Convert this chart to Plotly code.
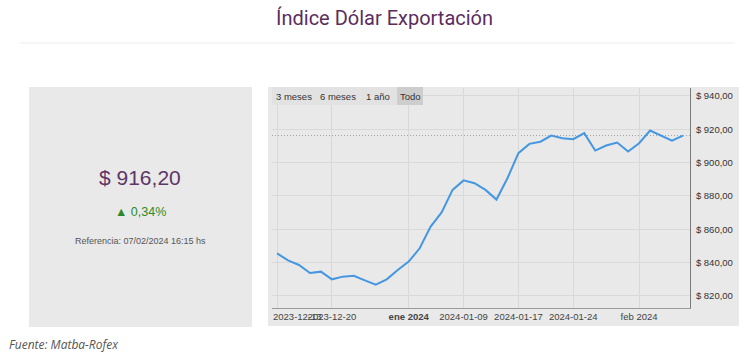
import plotly.graph_objects as go

# ---- data ----
dates = [
    "2023-12-13", "2023-12-14", "2023-12-15", "2023-12-18", "2023-12-19", "2023-12-20",
    "2023-12-21", "2023-12-22", "2023-12-26", "2023-12-27", "2023-12-28", "2023-12-29",
    "2024-01-02", "2024-01-03", "2024-01-04", "2024-01-05", "2024-01-08", "2024-01-09",
    "2024-01-10", "2024-01-11", "2024-01-12", "2024-01-16", "2024-01-17", "2024-01-18",
    "2024-01-19", "2024-01-22", "2024-01-23", "2024-01-24", "2024-01-25", "2024-01-26",
    "2024-01-29", "2024-01-30", "2024-01-31", "2024-02-01", "2024-02-02", "2024-02-05",
    "2024-02-06", "2024-02-07",
]
values = [
    845.6, 841.3, 838.6, 833.8, 834.6, 830.0,
    831.6, 832.1, 829.4, 826.8, 830.0, 835.6,
    840.6, 848.6, 861.6, 870.1, 883.6, 889.3,
    887.6, 883.6, 877.8, 890.6, 905.6, 911.2,
    912.5, 916.2, 914.6, 914.0, 917.6, 907.2,
    910.2, 912.0, 906.6, 911.6, 919.2, 916.0,
    913.1, 916.2,
]
tick_dates = ["2023-12-13", "2023-12-20", "2024-01-02", "2024-01-09",
              "2024-01-17", "2024-01-24", "2024-02-01"]
tick_labels = ["2023-12-13", "2023-12-20", "<b>ene 2024</b>", "2024-01-09",
               "2024-01-17", "2024-01-24", "feb 2024"]
y_ticks = [820, 840, 860, 880, 900, 920, 940]
y_tick_labels = ["$ 820,00", "$ 840,00", "$ 860,00", "$ 880,00",
                 "$ 900,00", "$ 920,00", "$ 940,00"]
last_value_text = "$ 916,20"
change_text = "▲ 0,34%"
reference_text = "Referencia: 07/02/2024 16:15 hs"
title_text = "Índice Dólar Exportación"
source_text = "<i>Fuente: Matba-Rofex</i>"
range_buttons = ["3 meses", "6 meses", "1 año", "Todo"]

# ---- geometry helpers (window pixels -> paper) ----
W, H = 752, 363
PL, PR, PT, PB = 272, 690, 88, 308  # plot area in pixels


def px(x):
    return (x - PL) / (PR - PL)


def py(y):
    return (PB - y) / (PB - PT)


fig = go.Figure()
fig.add_trace(go.Scatter(
    x=dates, y=values, mode="lines",
    line=dict(color="#4497e0", width=2),
    hoverinfo="skip", showlegend=False,
))

shapes = [
    dict(type="rect", xref="paper", yref="paper", x0=px(29), x1=px(252), y0=py(87), y1=py(327),
         fillcolor="#e9e9e9", line=dict(width=0), layer="below"),
    dict(type="rect", xref="paper", yref="paper", x0=px(268), x1=px(739), y0=py(87), y1=py(326),
         fillcolor="#e9e9e9", line=dict(width=0), layer="below"),
    dict(type="line", xref="paper", yref="paper", x0=px(20), x1=px(735), y0=py(43), y1=py(43),
         line=dict(color="#ececec", width=1)),
    dict(type="rect", xref="paper", yref="paper", x0=px(272), x1=px(397), y0=py(87), y1=py(105),
         fillcolor="#e2e2e2", line=dict(width=0), layer="above"),
    dict(type="rect", xref="paper", yref="paper", x0=px(397), x1=px(423), y0=py(87), y1=py(105),
         fillcolor="#cdcdcd", line=dict(width=0), layer="above"),
    dict(type="line", xref="paper", yref="y", x0=0, x1=1, y0=values[-1], y1=values[-1],
         line=dict(color="#a0a0a0", width=1, dash="1px,2px"), layer="below"),
]

# first tick label is justified inside the plot area, as in the reference
shown_tick_labels = [""] + tick_labels[1:]

annotations = [
    dict(text=title_text, x=px(384), y=py(18), xref="paper", yref="paper", showarrow=False,
         font=dict(family="Roboto", size=20, color="#5b2d5e"), xanchor="center", yanchor="middle"),
    dict(text=last_value_text, x=px(140), y=py(177), xref="paper", yref="paper", showarrow=False,
         font=dict(family="Liberation Sans", size=21, color="#5e3566"), xanchor="center", yanchor="middle"),
    dict(text=change_text, x=px(140), y=py(212), xref="paper", yref="paper", showarrow=False,
         font=dict(family="Liberation Sans", size=12.5, color="#2a8a2a"), xanchor="center", yanchor="middle"),
    dict(text=reference_text, x=px(140), y=py(241), xref="paper", yref="paper", showarrow=False,
         font=dict(family="Liberation Sans", size=9, color="#555555"), xanchor="center", yanchor="middle"),
    dict(text=source_text, x=px(7), y=py(344), xref="paper", yref="paper", showarrow=False,
         font=dict(family="Open Sans", size=12, color="#555555"), xanchor="left", yanchor="middle"),
    dict(text=tick_labels[0], x=px(271), y=py(316.5), xref="paper", yref="paper", showarrow=False,
         font=dict(family="Liberation Sans", size=9.5, color="#444444"), xanchor="left", yanchor="middle"),
]
for label, cx in zip(range_buttons, [294, 338, 378, 410]):
    annotations.append(dict(text=label, x=px(cx), y=py(96), xref="paper", yref="paper",
                            showarrow=False, xanchor="center", yanchor="middle",
                            font=dict(family="Liberation Sans", size=9.5, color="#333333")))

fig.update_layout(
    width=W, height=H,
    margin=dict(l=PL, r=W - PR, t=PT, b=H - PB),
    paper_bgcolor="white",
    plot_bgcolor="rgba(0,0,0,0)",
    shapes=shapes,
    annotations=annotations,
    showlegend=False,
    xaxis=dict(
        type="category",
        categoryorder="array", categoryarray=dates,
        range=[-0.46, len(dates) - 1 + 0.64],
        tickmode="array", tickvals=tick_dates, ticktext=shown_tick_labels,
        tickangle=0,
        showgrid=True, gridcolor="#d9d9d9", gridwidth=1,
        showline=True, linecolor="#9a9a9a", linewidth=1,
        ticks="", zeroline=False,
        tickfont=dict(family="Liberation Sans", size=9.5, color="#444444"),
        fixedrange=True,
    ),
    yaxis=dict(
        side="right",
        range=[812.8, 944.7],
        tickmode="array", tickvals=y_ticks, ticktext=y_tick_labels,
        showgrid=True, gridcolor="#d9d9d9", gridwidth=1,
        showline=True, linecolor="#7a7a7a", linewidth=1,
        ticks="", zeroline=False, ticklabelstandoff=3,
        tickfont=dict(family="Liberation Sans", size=9.5, color="#333333"),
        fixedrange=True,
    ),
)

fig.write_html("out.html", config={"displayModeBar": False},
               post_script="document.body.style.margin='0';document.body.style.overflow='hidden';")
